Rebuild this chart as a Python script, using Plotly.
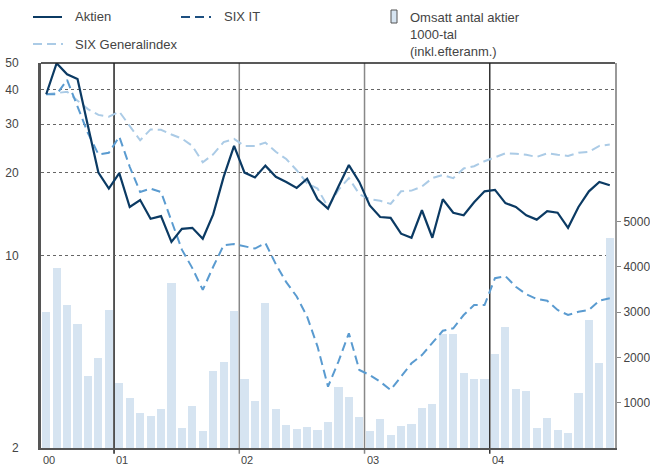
import plotly.graph_objects as go
import math

# Months June 2000 .. Dec 2004 (index positions)
months = [f"{y}-{m:02d}" for y in range(2000, 2005) for m in range(1, 13)][5:]
year_labels = ["00", "01", "02", "03", "04"]
year_start_idx = [0, 7, 19, 31, 43]

aktien = [38.5, 49.9, 45.5, 43.7, 29.5, 20.0, 17.5, 19.9, 15.0, 15.9, 13.6, 13.9, 11.2, 12.5,
          12.6, 11.5, 14.1, 19.3, 25.0, 20.0, 19.2, 21.2, 19.3, 18.5, 17.6, 19.0, 16.0, 14.8,
          17.8, 21.3, 18.5, 15.2, 13.8, 13.7, 12.0, 11.6, 14.6, 11.6, 16.0, 14.3, 14.0, 15.6,
          17.1, 17.3, 15.5, 15.0, 14.0, 13.5, 14.5, 14.3, 12.6, 15.0, 17.1, 18.5, 18.0]

six_general = [38.5, 38.8, 39.3, 36.5, 34.0, 32.4, 31.9, 33.3, 29.5, 26.2, 28.7, 28.6, 27.5, 26.6,
               25.0, 21.8, 23.3, 25.8, 26.5, 25.0, 25.0, 25.7, 23.8, 22.4, 20.4, 18.3, 17.5, 15.0,
               17.3, 19.1, 16.7, 16.0, 15.8, 15.4, 17.1, 17.2, 17.8, 19.1, 19.6, 19.1, 20.7, 21.1,
               22.0, 22.8, 23.5, 23.4, 23.2, 22.8, 23.5, 23.2, 23.0, 23.6, 23.8, 25.0, 25.3]

six_it = [38.5, 38.5, 43.4, 35.0, 27.8, 23.3, 23.6, 27.0, 21.0, 17.0, 17.5, 17.0, 13.3, 10.5,
          9.0, 7.5, 9.1, 10.9, 11.0, 10.8, 10.6, 11.1, 9.3, 8.0, 7.1, 6.0, 4.67, 3.34,
          4.12, 5.22, 3.84, 3.68, 3.48, 3.25, 3.63, 4.06, 4.35, 4.80, 5.33, 5.44, 6.08, 6.61,
          6.61, 8.27, 8.42, 7.70, 7.23, 6.95, 6.85, 6.34, 6.08, 6.25, 6.34, 6.85, 6.99]

volume = [3010, 3967, 3157, 2737, 1589, 1987, 3046,
          1435, 1104, 773, 706, 861, 3642, 442, 935, 375, 1700, 1898, 3024,
          1523, 1038, 3201, 861, 508, 420, 464, 397, 574, 1346, 1126, 685,
          375, 641, 287, 486, 530, 883, 971, 2517, 2517, 1656, 1523, 1523,
          2075, 2671, 1302, 1258, 442, 663, 397, 331, 1214, 2826, 1876, 4636]

left_ticks = [2, 10, 20, 30, 40, 50]
right_ticks = [1000, 2000, 3000, 4000, 5000]

x = list(range(len(months)))

C_AKT = "#0b3a63"
C_IT = "#5a9bd0"
C_IT_LEG = "#1d4f80"
C_GEN = "#abcbe6"
C_BAR = "#d6e4f1"
TXT = "#444444"
FONT = "Liberation Sans, Arial, sans-serif"

fig = go.Figure()
fig.add_trace(go.Bar(x=x, y=volume, yaxis="y", marker=dict(color=C_BAR, line=dict(width=0)),
                     width=0.78, hovertext=months, showlegend=False))
fig.add_trace(go.Scatter(x=x, y=six_general, yaxis="y2", mode="lines",
                         line=dict(color=C_GEN, width=2, dash="9px,5px"), showlegend=False))
fig.add_trace(go.Scatter(x=x, y=six_it, yaxis="y2", mode="lines",
                         line=dict(color=C_IT, width=2, dash="9px,5px"), showlegend=False))
fig.add_trace(go.Scatter(x=x, y=aktien, yaxis="y2", mode="lines",
                         line=dict(color=C_AKT, width=2.2), showlegend=False))

# plot area on the page: x 41..615, y 63..448 (body margin removed via post_script)
W, H = 650, 465
PL, PR, PT, PB = 41, 615, 63, 448
pw, ph = PR - PL, PB - PT
ML, MT = PL, PT
MR = W - ML - pw
MB = H - MT - ph


def px(xp):
    return (xp - PL) / pw


def py(yp):
    return (PB - yp) / ph


shapes = []
# top border
shapes.append(dict(type="line", xref="paper", yref="paper", x0=0, x1=1, y0=1, y1=1,
                   line=dict(color="#222", width=1.5)))
# year separators
sep_colors = ["#222", "#888", "#888", "#333"]
for i, idx in enumerate(year_start_idx[1:]):
    shapes.append(dict(type="line", xref="x", yref="paper", x0=idx - 0.5, x1=idx - 0.5,
                       y0=-0.015, y1=1, line=dict(color=sep_colors[i], width=1.5), layer="below"))

# legend
shapes.append(dict(type="line", xref="paper", yref="paper", x0=px(33), x1=px(62), y0=py(17), y1=py(17),
                   line=dict(color=C_AKT, width=2)))
shapes.append(dict(type="line", xref="paper", yref="paper", x0=px(181), x1=px(211), y0=py(17), y1=py(17),
                   line=dict(color=C_IT_LEG, width=2, dash="9px,5px")))
shapes.append(dict(type="line", xref="paper", yref="paper", x0=px(33), x1=px(63), y0=py(44), y1=py(44),
                   line=dict(color=C_GEN, width=2, dash="9px,5px")))
shapes.append(dict(type="rect", xref="paper", yref="paper", x0=px(391), x1=px(397), y0=py(23), y1=py(10),
                   fillcolor=C_BAR, line=dict(color="#555", width=1)))

annotations = []
leg_font = dict(family=FONT, size=13, color=TXT)
annotations.append(dict(xref="paper", yref="paper", x=px(73), y=py(17), text="Aktien", showarrow=False,
                        xanchor="left", yanchor="middle", font=leg_font))
annotations.append(dict(xref="paper", yref="paper", x=px(222), y=py(17), text="SIX IT", showarrow=False,
                        xanchor="left", yanchor="middle", font=leg_font))
annotations.append(dict(xref="paper", yref="paper", x=px(73), y=py(44), text="SIX Generalindex",
                        showarrow=False, xanchor="left", yanchor="middle", font=leg_font))
annotations.append(dict(xref="paper", yref="paper", x=px(408), y=py(8),
                        text="Omsatt antal aktier<br>1000-tal<br>(inkl.efteranm.)", showarrow=False,
                        xanchor="left", yanchor="top", align="left", font=leg_font))
for lab, idx in zip(year_labels, year_start_idx):
    annotations.append(dict(xref="x", yref="paper", x=idx - 0.5, y=0, yshift=-4, text=lab,
                            showarrow=False, xanchor="left", yanchor="top",
                            font=dict(family=FONT, size=11, color=TXT)))

fig.update_layout(
    width=W, height=H,
    margin=dict(l=ML, r=MR, t=MT, b=MB, pad=0, autoexpand=False),
    paper_bgcolor="white", plot_bgcolor="white",
    bargap=0,
    shapes=shapes, annotations=annotations,
    showlegend=False,
    xaxis=dict(range=[-0.5, len(months) - 0.5], showgrid=False, zeroline=False, automargin=False,
               showticklabels=False, ticks="", showline=True, linecolor="#555", linewidth=2),
    yaxis=dict(side="right", range=[0, 8500], tickvals=right_ticks, ticktext=[str(v) for v in right_ticks],
               showgrid=False, zeroline=False, showline=True, linecolor="#999", linewidth=2,
               ticks="outside", ticklen=4, tickcolor="#888", automargin=False,
               tickfont=dict(family=FONT, size=12, color=TXT)),
    yaxis2=dict(overlaying="y", side="left", type="log", automargin=False,
                range=[math.log10(2), math.log10(50)], tickvals=left_ticks,
                ticktext=[str(v) for v in left_ticks],
                showgrid=True, gridcolor="#666", griddash="dot", gridwidth=1.2,
                zeroline=False, showline=True, linecolor="#555", linewidth=3,
                ticks="", ticklabelstandoff=17,
                tickfont=dict(family=FONT, size=12, color=TXT)),
)

fig.write_html("out.html", config={"displayModeBar": False},
               post_script="document.body.style.margin='0';document.body.style.overflow='hidden';")
